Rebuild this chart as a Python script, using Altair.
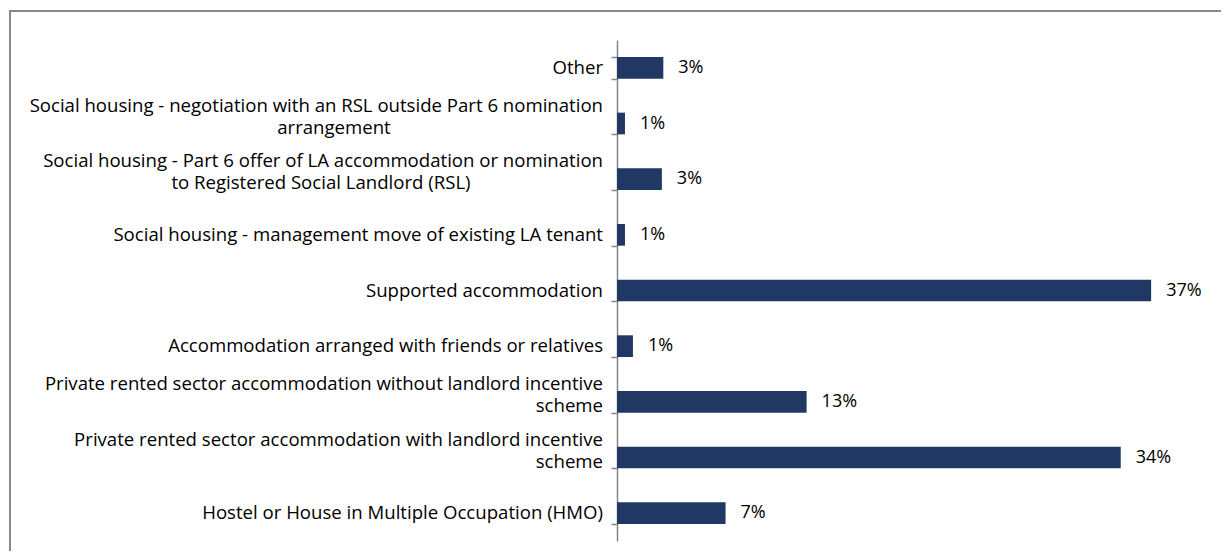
import altair as alt
import pandas as pd

categories = [
    "Other",
    "Social housing - negotiation with an RSL outside Part 6 nomination\narrangement",
    "Social housing - Part 6 offer of LA accommodation or nomination\nto Registered Social Landlord (RSL)",
    "Social housing - management move of existing LA tenant",
    "Supported accommodation",
    "Accommodation arranged with friends or relatives",
    "Private rented sector accommodation without landlord incentive\nscheme",
    "Private rented sector accommodation with landlord incentive\nscheme",
    "Hostel or House in Multiple Occupation (HMO)",
]
values = [3.2, 0.55, 3.1, 0.55, 36.9, 1.1, 13.1, 34.8, 7.5]
value_labels = ["3%", "1%", "3%", "1%", "37%", "1%", "13%", "34%", "7%"]

df = pd.DataFrame({"category": categories, "value": values, "label": value_labels})

FONT = "Open Sans"
BAR = "#1f3864"
GRAY = "#868686"
LABEL_SIZE = 18.6
VALUE_SIZE = 18
LINE1_DY = -18
LINE2_DY = 4

y_enc = alt.Y(
    "category:N",
    sort=categories,
    scale=alt.Scale(paddingInner=0.61, paddingOuter=0.305),
    axis=alt.Axis(
        title=None,
        labels=False,
        tickSize=6,
        tickColor=GRAY,
        tickWidth=1.5,
        tickBand="extent",
        domainColor=GRAY,
        domainWidth=1.5,
        grid=False,
    ),
)
y_plain = alt.Y("category:N", sort=categories)
x_enc = alt.X("value:Q", scale=alt.Scale(domain=[0, 40]), axis=None)

base = alt.Chart(df).transform_calculate(
    line1="split(datum.category, '\\n')[0]",
    line2="indexof(datum.category, '\\n') >= 0 ? split(datum.category, '\\n')[1] : ''",
)
txt = dict(font=FONT, fontSize=LABEL_SIZE, color="#000000", baseline="middle")

bars = base.mark_bar(color=BAR).encode(x=x_enc, y=y_enc)
values_text = base.mark_text(
    align="left", baseline="middle", dx=15, font=FONT, fontSize=VALUE_SIZE, color="#000000"
).encode(x=x_enc, y=y_plain, text="label:N")

cat_single = (
    base.transform_filter("datum.line2 == ''")
    .mark_text(align="right", **txt)
    .encode(x=alt.value(-14), y=y_plain, text="line1:N")
)
cat_first = (
    base.transform_filter("datum.line2 != ''")
    .mark_text(align="right", dy=LINE1_DY, **txt)
    .encode(x=alt.value(-14), y=y_plain, text="line1:N")
)
cat_second_right = (
    base.transform_filter("datum.line2 == 'scheme'")
    .mark_text(align="right", dy=LINE2_DY, **txt)
    .encode(x=alt.value(-14), y=y_plain, text="line2:N")
)
cat_second_a = (
    base.transform_filter("datum.line2 == 'arrangement'")
    .mark_text(align="center", dy=LINE2_DY, **txt)
    .encode(x=alt.value(-283), y=y_plain, text="line2:N")
)
cat_second_b = (
    base.transform_filter("indexof(datum.line2, 'Registered') >= 0")
    .mark_text(align="center", dy=LINE2_DY, **txt)
    .encode(x=alt.value(-296), y=y_plain, text="line2:N")
)

frame_data = alt.Data(values=[{"k": 1}])
left_border = alt.Chart(frame_data).mark_rule(color="#898989", strokeWidth=2).encode(
    x=alt.value(-607), y=alt.value(-30), y2=alt.value(540)
)
top_border = alt.Chart(frame_data).mark_rule(color="#898989", strokeWidth=2).encode(
    x=alt.value(-608), x2=alt.value(610), y=alt.value(-29)
)

chart = (
    alt.layer(
        bars, values_text, cat_single, cat_first, cat_second_right,
        cat_second_a, cat_second_b, left_border, top_border,
    )
    .properties(
        width=579,
        height=501,
        autosize=alt.AutoSizeParams(type="none"),
        padding={"left": 609, "top": 32, "right": 25, "bottom": 10},
        background="white",
    )
    .configure_view(stroke=None)
)

chart.save("out.html", embed_options={"renderer": "svg", "actions": False})
